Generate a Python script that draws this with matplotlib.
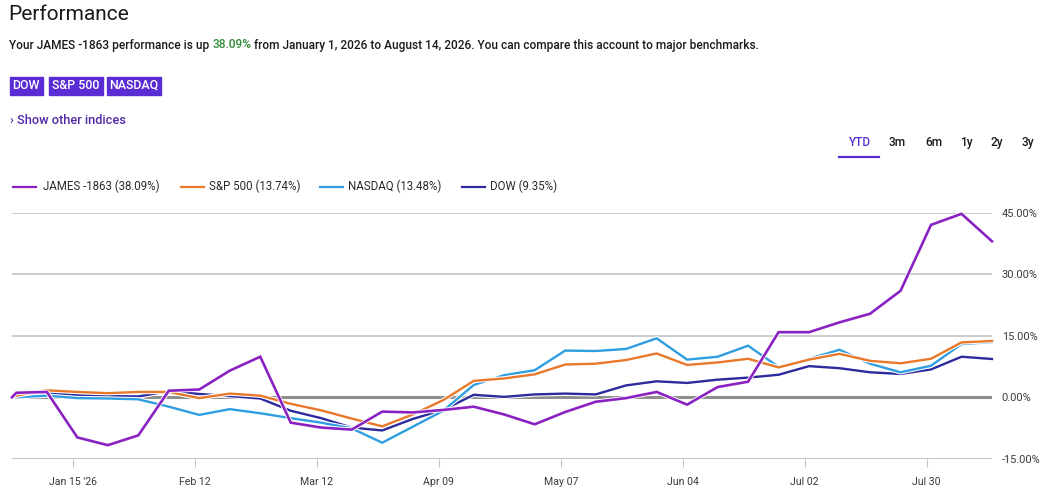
import matplotlib
matplotlib.use("Agg")
import matplotlib.pyplot as plt
import matplotlib.dates as mdates
import matplotlib.patheffects as pe
from matplotlib.lines import Line2D
from matplotlib.patches import Rectangle
import numpy as np

plt.rcParams['font.family'] = ['Roboto', 'DejaVu Sans']

# weekly closes, % change since Jan 1 2026
dates = ["2026-01-01", "2026-01-02", "2026-01-09", "2026-01-16", "2026-01-23", "2026-01-30",
         "2026-02-06", "2026-02-13", "2026-02-20", "2026-02-27", "2026-03-06", "2026-03-13",
         "2026-03-20", "2026-03-27", "2026-04-03", "2026-04-10", "2026-04-17", "2026-04-24",
         "2026-05-01", "2026-05-08", "2026-05-15", "2026-05-22", "2026-05-29", "2026-06-05",
         "2026-06-12", "2026-06-19", "2026-06-26", "2026-07-03", "2026-07-10", "2026-07-17",
         "2026-07-24", "2026-07-31", "2026-08-07", "2026-08-14"]

james = [0, 1.1, 1.3, -9.8, -11.7, -9.3, 1.6, 1.9, 6.5, 9.9, -6.2, -7.4,
         -7.9, -3.5, -3.7, -3.1, -2.3, -4.2, -6.6, -3.6, -1.1, -0.2, 1.3, -1.8,
         2.5, 3.8, 15.9, 15.9, 18.3, 20.4, 26.0, 42.1, 44.8, 38.09]
sp500 = [0, 0.4, 1.7, 1.3, 1.0, 1.3, 1.3, -0.2, 0.9, 0.4, -1.6, -3.2,
         -5.2, -7.1, -4.2, -0.7, 4.0, 4.6, 5.6, 8.0, 8.2, 9.1, 10.7, 7.9,
         8.5, 9.4, 7.3, 9.2, 10.6, 8.9, 8.3, 9.4, 13.4, 13.74]
nasdaq = [0, 0, 0.4, -0.2, -0.3, -0.5, -2.3, -4.3, -2.9, -3.9, -5.1, -6.2,
          -7.6, -11.1, -7.2, -3.3, 3.0, 5.4, 6.6, 11.4, 11.3, 11.8, 14.4, 9.2,
          9.9, 12.6, 7.4, 9.4, 11.6, 8.2, 6.1, 7.7, 13.0, 13.48]
dow = [0, 0.6, 1.1, 0.5, 0.3, 0.2, 1.5, 0.8, 0.3, -0.3, -3.3, -5.1,
       -7.4, -8.1, -5.3, -3.1, 0.6, 0.1, 0.7, 0.9, 0.7, 2.9, 3.9, 3.5,
       4.3, 4.8, 5.5, 7.6, 7.1, 6.1, 5.7, 6.8, 9.9, 9.35]

names = ["JAMES -1863 (38.09%)", "S&P 500 (13.74%)", "NASDAQ (13.48%)", "DOW (9.35%)"]
colors = ["#8a22c2", "#e8782a", "#2f9ee0", "#2d2a9e"]

tick_dates = ["2026-01-15", "2026-02-12", "2026-03-12", "2026-04-09",
              "2026-05-07", "2026-06-04", "2026-07-02", "2026-07-30"]
tick_labels = ["Jan 15 '26", "Feb 12", "Mar 12", "Apr 09", "May 07", "Jun 04", "Jul 02", "Jul 30"]
y_ticks = [-15, 0, 15, 30, 45]

W, H = 1051, 496
fig = plt.figure(figsize=(W / 100, H / 100), dpi=100)

def fx(px):
    return px / W

def fy(py):
    return 1 - py / H

# header
fig.text(fx(8), fy(15), "Performance", fontsize=15, color="#1a1a1a", va="center", ha="left")
sub = fig.text(fx(9), fy(45), "Your JAMES -1863 performance is up ", fontsize=8.55,
               color="#1a1a1a", va="center", ha="left", fontweight="medium")
fig.canvas.draw()
r = fig.canvas.get_renderer()
bb = sub.get_window_extent(r)
green = fig.text(bb.x1 / W, fy(45), "38.09%", fontsize=8.55, color="#2e8b34",
                 va="center", ha="left", fontweight="medium")
bb = green.get_window_extent(r)
fig.text(bb.x1 / W, fy(45), " from January 1, 2026 to August 14, 2026. You can compare this account to major benchmarks.",
         fontsize=8.55, color="#1a1a1a", va="center", ha="left", fontweight="medium")

# index buttons
for lbl, x0, x1 in [("DOW", 10, 42.5), ("S&P 500", 49, 102.5), ("NASDAQ", 107, 161)]:
    fig.patches.append(Rectangle((fx(x0), fy(94.5)), fx(x1 - x0), (94.5 - 76.5) / H,
                                 transform=fig.transFigure, color="#5a2dd4", zorder=1))
    fig.text(fx((x0 + x1) / 2), fy(85.5), lbl, fontsize=8.9, color="white",
             ha="center", va="center", fontweight="medium")

fig.text(fx(10), fy(121), "\u203a Show other indices", fontsize=9.2, color="#4f2aa8",
         va="center", ha="left", fontweight="medium")

# period tabs
for lbl, cx in [("YTD", 860), ("3m", 897.5), ("6m", 934), ("1y", 966.5), ("2y", 996.5), ("3y", 1028)]:
    fig.text(fx(cx), fy(142.5), lbl, fontsize=8.6, ha="center", va="center",
             color="#5a2dd4" if lbl == "YTD" else "#1a1a1a", fontweight="medium")
fig.add_artist(Line2D([fx(839), fx(879)], [fy(157), fy(157)], color="#5a2dd4", lw=1.6))

# legend row
for name, c, x0, tx in zip(names, colors, [13, 181, 320, 462], [43, 209, 348, 490]):
    fig.add_artist(Line2D([fx(x0), fx(x0 + 23)], [fy(186.5), fy(186.5)], color=c, lw=1.6))
    fig.text(fx(tx), fy(186.5), name, fontsize=8.3, color="#2a2a2a", va="center", ha="left")

# chart
ax = fig.add_axes([fx(12), fy(458.7), fx(980), (458.7 - 213) / H])
x = mdates.datestr2num(dates)

for yv in [15, 30, 45]:
    ax.axhline(yv, color="#bdbdbd", lw=1.1, zorder=1)
ax.axhline(-15, color="#c4c4c4", lw=1.4, zorder=1)
ax.axhline(0, color="#8f8f8f", lw=2.2, zorder=1)

series = [dow, nasdaq, sp500, james]
order_colors = [colors[3], colors[2], colors[1], colors[0]]
for i, (vals, c) in enumerate(zip(series, order_colors)):
    ax.plot(x, vals, color=c, lw=1.7 if i < 3 else 1.9, zorder=3 + i, clip_on=False,
            solid_joinstyle="miter",
            path_effects=[pe.Stroke(linewidth=3.2, foreground="white"), pe.Normal()])

ax.set_xlim(mdates.datestr2num("2026-01-01"), mdates.datestr2num("2026-08-14"))
ax.set_ylim(-15, 45)
ax.set_xticks(mdates.datestr2num(tick_dates))
ax.set_xticklabels(tick_labels)
ax.set_yticks(y_ticks)
ax.set_yticklabels(["%.2f%%" % v for v in y_ticks])
ax.yaxis.tick_right()
ax.tick_params(axis="y", length=0, pad=7, labelsize=7.9, labelcolor="#3a3a3a")
ax.tick_params(axis="x", length=5.5, width=0.8, color="#c4c4c4", pad=8,
               labelsize=7.6, labelcolor="#3a3a3a")
for s in ax.spines.values():
    s.set_visible(False)
ax.patch.set_alpha(0)

fig.savefig("out.png", dpi=100)
